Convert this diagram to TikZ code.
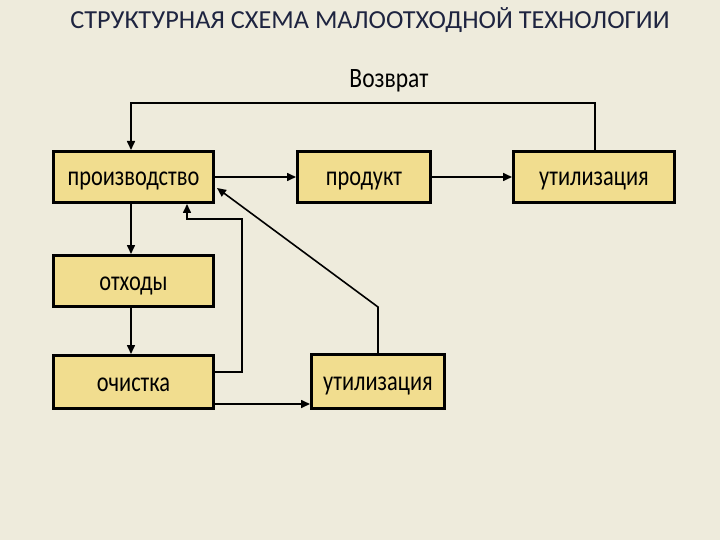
\documentclass[tikz,border=0pt]{standalone}
\usepackage{fontspec}
\setmainfont{Carlito}
\usetikzlibrary{arrows.meta}
\definecolor{bg}{HTML}{EEEBDC}
\definecolor{boxfill}{HTML}{F1DD8F}
\definecolor{titlecol}{HTML}{1E2440}
\newcommand{\lbl}[1]{\raisebox{-9pt}[0pt][0pt]{\scalebox{0.8}[1]{#1}}}
\tikzset{
  blk/.style={draw=black, line width=3pt, fill=boxfill, inner sep=0pt,
    font=\fontsize{28}{30}\selectfont},
  conn/.style={line width=1.6pt, -{Triangle[length=9pt,width=8pt]}},
  plain/.style={line width=1.6pt}
}
\begin{document}
\begin{tikzpicture}[x=1pt,y=-1pt]
\fill[bg] (0,0) rectangle (720,540);
\useasboundingbox (0,0) rectangle (720,540);
\node[titlecol, font=\fontsize{26}{28}\selectfont] (title) at (370,20) {\scalebox{1.01}[1]{СТРУКТУРНАЯ СХЕМА МАЛООТХОДНОЙ ТЕХНОЛОГИИ}};
\node[blk, minimum width=160pt, minimum height=51pt] (prod) at (133.5,177) {\lbl{производство}};
\node[blk, minimum width=133pt, minimum height=51pt] (product) at (364,177) {\lbl{продукт}};
\node[blk, minimum width=161pt, minimum height=51pt] (util1) at (594,177) {\lbl{утилизация}};
\node[blk, minimum width=160pt, minimum height=51pt] (waste) at (133.5,281) {\lbl{отходы}};
\node[blk, minimum width=160pt, minimum height=53pt] (clean) at (133.5,382) {\lbl{очистка}};
\node[blk, minimum width=133pt, minimum height=54pt] (util2) at (378,381.5) {\lbl{утилизация}};
\node[font=\fontsize{28}{30}\selectfont] (ret) at (389,80) {\raisebox{-7.5pt}[0pt][0pt]{\scalebox{0.84}[1]{Возврат}}};
\coordinate (r1) at (595,103);
\coordinate (r2) at (131,103);
\draw[conn] (util1.north -| r1) |- (r2) -- (prod.north -| r2);
\draw[conn] (prod.east) -- (product.west);
\draw[conn] (product.east) -- (util1.west);
\draw[conn] (prod.south -| 131,0) -- (waste.north -| 131,0);
\draw[conn] (waste.south -| 131,0) -- (clean.north -| 131,0);
\coordinate (c1) at (242,372);
\coordinate (c2) at (242,219);
\coordinate (c3) at (187,219);
\draw[conn] (clean.east |- c1) -- (c1) -- (c2) -- (c3) -- (prod.south -| c3);
\coordinate (d1) at (378,307);
\coordinate (d2) at (217,188);
\draw[conn] (util2.north -| d1) -- (d1) -- (d2);
\draw[conn] (clean.east |- 0,404) -- (util2.west |- 0,404);
\end{tikzpicture}
\end{document}
